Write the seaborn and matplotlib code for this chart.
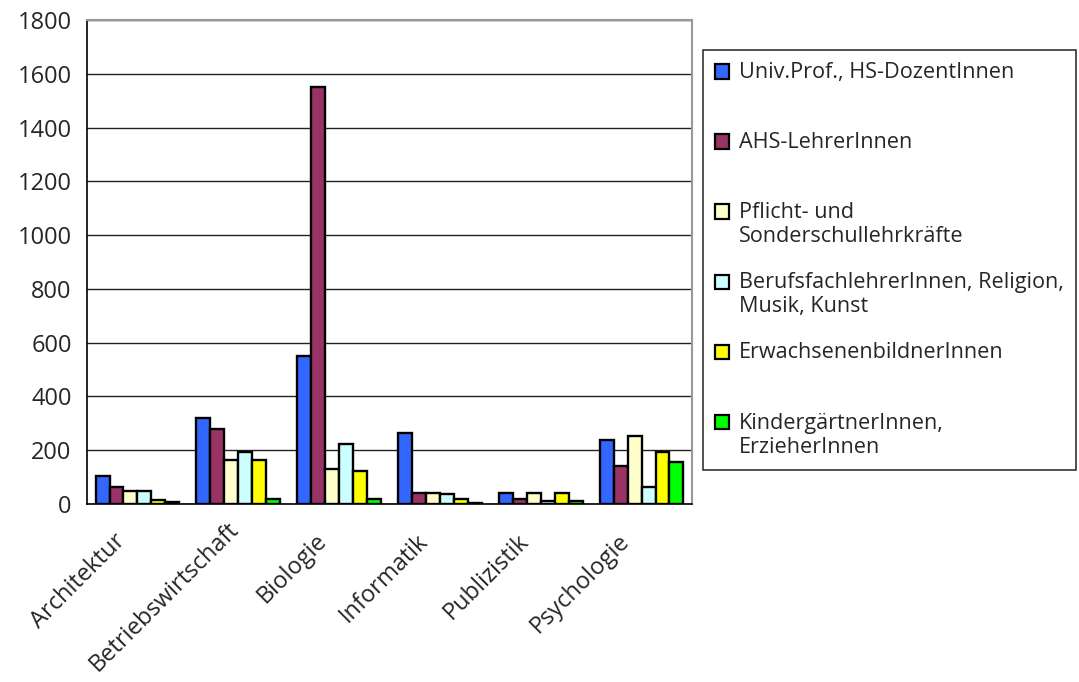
import matplotlib
matplotlib.use("Agg")
import matplotlib.pyplot as plt
import matplotlib.transforms as mtransforms
import seaborn as sns
import pandas as pd
import numpy as np
from matplotlib.legend_handler import HandlerPatch
from matplotlib.patches import Rectangle

categories = ["Architektur", "Betriebswirtschaft", "Biologie", "Informatik", "Publizistik", "Psychologie"]
series_names = [
    "Univ.Prof., HS-DozentInnen",
    "AHS-LehrerInnen",
    "Pflicht- und\nSonderschullehrkräfte",
    "BerufsfachlehrerInnen, Religion,\nMusik, Kunst",
    "ErwachsenenbildnerInnen",
    "KindergärtnerInnen,\nErzieherInnen",
]
univ_prof = [103, 320, 550, 265, 42, 237]
ahs = [65, 280, 1550, 42, 20, 140]
pflicht = [50, 162, 132, 42, 42, 252]
berufsfach = [50, 192, 222, 36, 10, 65]
erwachsenen = [14, 162, 124, 20, 42, 192]
kinder = [6, 20, 20, 5, 12, 155]
colors = ["#3366FF", "#993366", "#FFFFCC", "#CCFFFF", "#FFFF00", "#00FF00"]
yticks = [0, 200, 400, 600, 800, 1000, 1200, 1400, 1600, 1800]

series_values = [univ_prof, ahs, pflicht, berufsfach, erwachsenen, kinder]
rows = []
for name, vals in zip(series_names, series_values):
    for cat, v in zip(categories, vals):
        rows.append({"Kategorie": cat, "Gruppe": name, "Wert": v})
df = pd.DataFrame(rows)

sns.set_style("white")
plt.rcParams["font.family"] = ["Open Sans", "DejaVu Sans"]

FS = 15.6

fig = plt.figure(figsize=(10.79, 6.82), dpi=100)
ax = fig.add_axes([87 / 1079, (682 - 504) / 682, (692 - 87) / 1079, (504 - 20) / 682])

sns.barplot(data=df, x="Kategorie", y="Wert", hue="Gruppe", order=categories,
            hue_order=series_names, palette=colors, saturation=1, edgecolor="black",
            linewidth=1.7, width=0.83, gap=0, ax=ax, legend=True)

ax.set_ylim(0, 1800)
ax.set_xlim(-0.5, len(categories) - 0.5)
ax.set_yticks(yticks)
ax.set_yticklabels([str(t) for t in yticks], fontsize=17)
ax.yaxis.grid(True, color="#222222", linewidth=1)
ax.set_axisbelow(True)
ax.set_xlabel("")
ax.set_ylabel("")

ax.set_xticks(range(len(categories)))
ax.set_xticklabels(categories, rotation=45, ha="right", va="top", rotation_mode="default", fontsize=17)
ax.tick_params(axis="x", which="major", length=0, pad=18)
for lbl in ax.get_xticklabels():
    if lbl.get_text() == "Betriebswirtschaft":
        dx, dy = 6, 12
    else:
        dx, dy = -7, 0
    off = mtransforms.ScaledTranslation(dx / 100, dy / 100, fig.dpi_scale_trans)
    lbl.set_transform(lbl.get_transform() + off)
ax.set_xticks(np.arange(-0.5, len(categories), 1.0), minor=True)
ax.tick_params(axis="x", which="minor", direction="inout", length=8, width=1, color="black")
ax.tick_params(axis="y", direction="inout", length=8, width=1, color="black", pad=7)

for s in ["left", "bottom"]:
    ax.spines[s].set_color("black")
    ax.spines[s].set_linewidth(1.2)
for s in ["top", "right"]:
    ax.spines[s].set_color("#999999")
    ax.spines[s].set_linewidth(1.5)


def top_aligned_patch(legend, orig_handle, xdescent, ydescent, width, height, fontsize):
    up = 0.62 * fontsize
    return Rectangle((-xdescent, -ydescent + up), width, height)


handles, labels = ax.get_legend_handles_labels()
labels = [l if "\n" in l else l + "\n " for l in labels]
leg = ax.legend(handles, labels, loc="upper left", bbox_to_anchor=(703 / 1079, 1 - 50 / 682),
                bbox_transform=fig.transFigure, frameon=True, fancybox=False,
                edgecolor="black", fontsize=FS, handlelength=0.65, handleheight=0.65,
                handletextpad=0.45, labelspacing=1.15, borderpad=0.55, borderaxespad=0,
                handler_map={Rectangle: HandlerPatch(patch_func=top_aligned_patch)})
leg.get_frame().set_linewidth(1.2)
for h in leg.legend_handles:
    h.set_edgecolor("black")
    h.set_linewidth(1.6)

fig.savefig("out.png", dpi=100)
